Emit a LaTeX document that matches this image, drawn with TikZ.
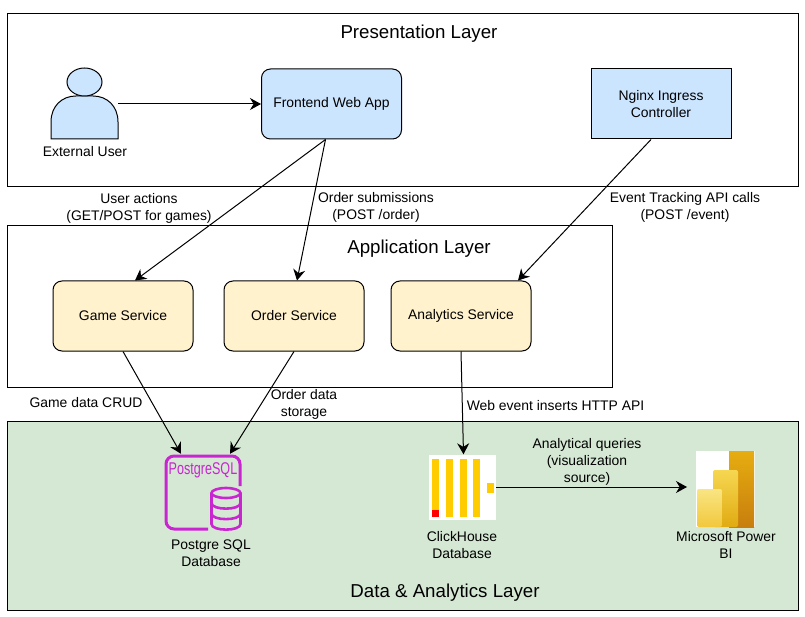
\documentclass[tikz,border=0pt]{standalone}
\usepackage{fontspec}
\setmainfont{Liberation Sans}
\usetikzlibrary{arrows.meta}
\definecolor{userblue}{HTML}{CCE5FF}
\definecolor{appyellow}{HTML}{FFF2CC}
\definecolor{datagreen}{HTML}{D5E8D4}
\definecolor{pgpurple}{HTML}{C925D1}
\definecolor{chyellow}{HTML}{FFCC00}
\tikzset{
  layerbox/.style={draw=black, line width=1pt},
  webbox/.style={draw=black, line width=1pt, fill=userblue, minimum width=140pt, minimum height=70pt, align=center, font=\fontsize{13.9}{17}\selectfont},
  svcbox/.style={draw=black, line width=1pt, fill=appyellow, rounded corners=9pt, minimum width=140pt, minimum height=70pt, font=\fontsize{13.9}{17}\selectfont},
  flow/.style={draw=black, line width=1pt, -{Stealth[length=11pt,width=12pt]}},
  lbl/.style={align=center, inner sep=0pt, font=\fontsize{13.9}{17}\selectfont},
  title/.style={inner sep=0pt, font=\fontsize{18.7}{20}\selectfont},
  icon/.style={inner sep=0pt, minimum width=#1}
}
\begin{document}
\begin{tikzpicture}[x=1pt, y=-1pt]
\useasboundingbox (0,0) rectangle (805,617);
\fill [white] (0,0) rectangle (805,617);

% layers
\draw [layerbox] (7.5,14) rectangle (798,186.5);
\draw [layerbox] (7.5,226) rectangle (612,387);
\draw [layerbox, fill=datagreen] (7.5,421) rectangle (798,610);

\node [title] (presTitle) at (419,34) {Presentation Layer};
\node [title] (appTitle) at (419,249) {Application Layer};
\node [title] (dataTitle) at (445,593) {Data \& Analytics Layer};

% external user
\draw [line width=1pt, fill=userblue] (51,139) -- (51,122) .. controls (51,106) and (62,96) .. (76,96) -- (93,96) .. controls (107,96) and (118,106) .. (118,122) -- (118,139) -- cycle;
\draw [line width=1pt, fill=userblue] (84.5,82) ellipse (17.5 and 14);
\node [icon=67pt, minimum height=70pt] (extUser) at (84.5,104) {};
\node [lbl] (extUserText) at (85,152) {External User};

\node [webbox, rounded corners=9pt] (frontend) at (331.5,104) {Frontend Web App};
\node [webbox] (nginx) at (661,104) {Nginx Ingress\\Controller};

\node [svcbox] (game) at (123,316) {Game Service};
\node [svcbox] (order) at (294,316) {Order Service};
\node [svcbox] (analytics) at (461,316) {Analytics Service};

% postgres icon
\node [icon=76pt, minimum height=76pt] (pgsql) at (203,492) {};
\draw [pgpurple, line width=3pt, rounded corners=8pt] (240,486) -- (240,456) -- (166,456) -- (166,529) -- (208,529);
\node [pgpurple, inner sep=0pt, xscale=0.74, transform shape, font=\fontsize{17}{17}\selectfont] (pgText) at (203,470) {PostgreSQL};
\draw [pgpurple, line width=2.6pt, fill=datagreen] (211.5,493) -- (211.5,524) .. controls (211.5,531.5) and (240.5,531.5) .. (240.5,524) -- (240.5,493);
\draw [pgpurple, line width=2.6pt] (226,493) ellipse (14.5 and 5);
\draw [pgpurple, line width=2.6pt] (211.5,503) .. controls (211.5,510.5) and (240.5,510.5) .. (240.5,503);
\draw [pgpurple, line width=2.6pt] (211.5,513.5) .. controls (211.5,521) and (240.5,521) .. (240.5,513.5);
\node [lbl] (pgText2) at (211,553) {Postgre SQL\\Database};

% clickhouse icon
\node [icon=67pt, minimum height=65pt, fill=white] (clickhouse) at (462.5,487) {};
\foreach \i in {432,446,460,473}
{
	\fill [chyellow] (\i,459) rectangle (\i+7,517);
}
\fill [red] (432,510) rectangle (439,517);
\fill [chyellow] (487,483) rectangle (494,493);
\node [lbl] (chText) at (462,545) {ClickHouse\\Database};

% power bi icon
\node [icon=59pt, minimum height=76pt, fill=white] (powerbi) at (725.5,489) {};
\shade [top color={rgb,255:red,230;green,173;blue,16}, bottom color={rgb,255:red,200;green,126;blue,14}] (729,451) rectangle (754,527);
\shade [top color={rgb,255:red,246;green,215;blue,81}, bottom color={rgb,255:red,224;green,170;blue,18}, rounded corners=2pt] (713,470) -- (738,470) -- (738,527) -- (713,527) -- cycle;
\shade [top color={rgb,255:red,249;green,229;blue,131}, bottom color={rgb,255:red,242;green,200;blue,60}, rounded corners=2pt] (697,489) -- (722,489) -- (722,527) -- (697,527) -- cycle;
\node [lbl] (biText) at (726,545) {Microsoft Power\\BI};

% connectors
\coordinate (biIn) at (687,487);
\draw [flow] (extUser) -- (frontend);
\draw [flow] ([xshift=-6pt]frontend.south) -- ([xshift=12pt]game.north);
\draw [flow] ([xshift=-6pt]frontend.south) -- ([xshift=3pt]order.north);
\draw [flow] ([xshift=-10pt]nginx.south) -- ([xshift=57pt]analytics.north);
\draw [flow] (game.south) -- ([xshift=-22pt]pgsql.north);
\draw [flow] (order.south) -- ([xshift=27pt]pgsql.north);
\draw [flow] (analytics.south) -- ([xshift=1pt]clickhouse.north);
\draw [flow] (clickhouse.east) -- (biIn);

% labels
\node [lbl] (actionsLbl) at (139,208.5) {User actions\\(GET/POST for games)};
\node [lbl] (submitLbl) at (376,207.5) {Order submissions\\(POST /order)};
\node [lbl] (eventLbl) at (685,207.5) {Event Tracking API calls\\(POST /event)};
\node [lbl] (crudLbl) at (86,403) {Game data CRUD};
\node [lbl] (storeLbl) at (304,404) {Order data\\storage};
\node [lbl] (insertLbl) at (555.5,406) {Web event inserts HTTP API};
\node [lbl] (queryLbl) at (587,461.5) {Analytical queries\\(visualization\\source)};

\end{tikzpicture}
\end{document}
